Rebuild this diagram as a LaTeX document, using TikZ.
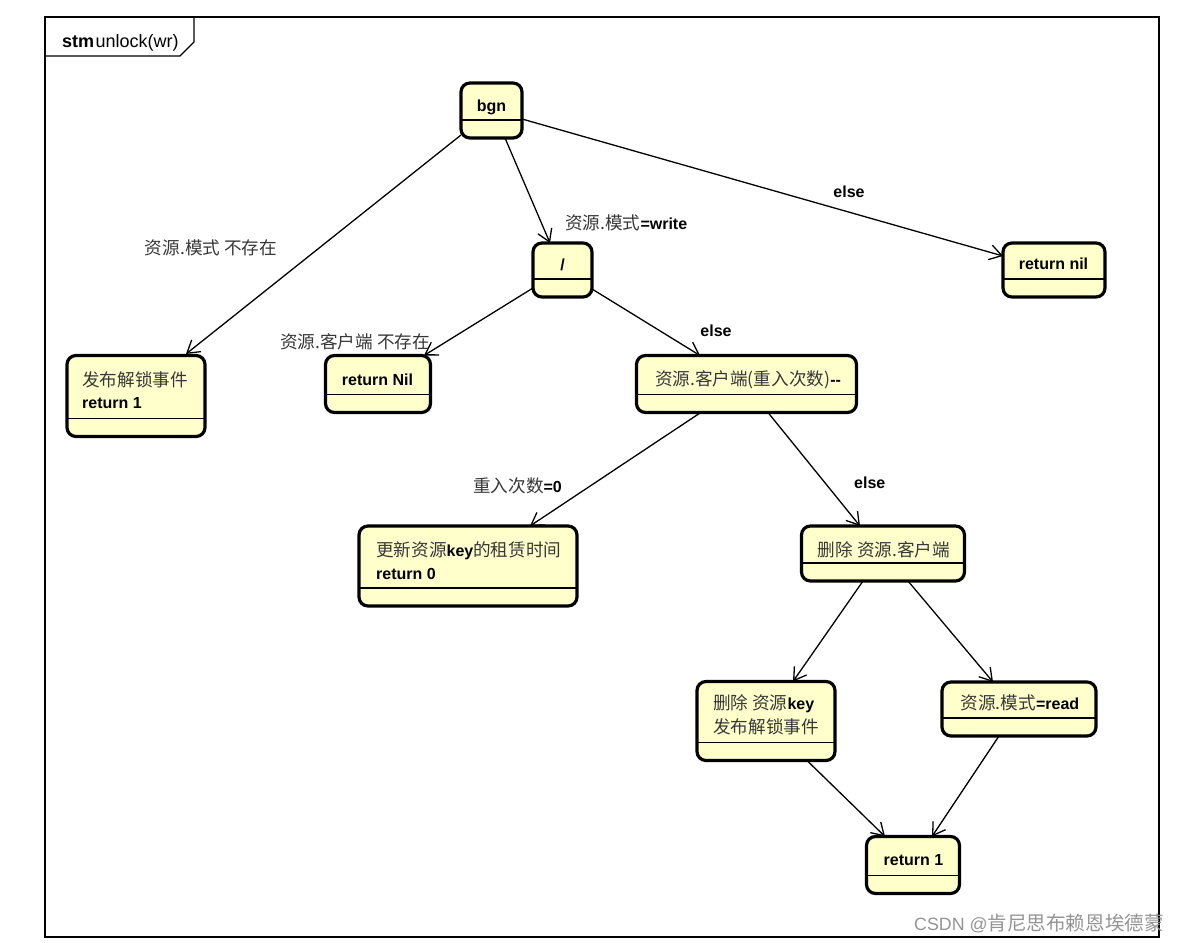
\documentclass[tikz,border=0pt]{standalone}
\usepackage{fontspec}
\setmainfont{Liberation Sans}
\newfontfamily\cjk[Scale=1.1]{Noto Sans CJK SC}
\usetikzlibrary{arrows.meta}
\definecolor{statefill}{RGB}{255,255,204}
\definecolor{zhgray}{RGB}{55,55,55}
\newcommand{\zh}[1]{{\cjk\mdseries\color{zhgray}#1}}
\newcommand{\stbox}[5]{%
  \node[state, minimum width=#4pt, minimum height=#5pt] (#1) at (#2,#3) {};
  \draw[sepline] ([yshift=18pt]#1.south west) -- ([yshift=18pt]#1.south east);}
\begin{document}
\begin{tikzpicture}[x=1pt,y=-1pt,
  font=\fontsize{16}{19}\selectfont\bfseries,
  state/.style={draw, line width=3.2pt, rounded corners=9pt, fill=statefill, outer sep=0pt, inner sep=0pt},
  sepline/.style={line width=1.5pt},
  lbl/.style={inner sep=0pt, anchor=base},
  lblw/.style={inner sep=0pt, anchor=base west},
  conn/.style={line width=1.3pt, -{Straight Barb[length=12pt,width=15pt,line width=1.3pt]}},
]
\useasboundingbox (0,0) rectangle (1180,942);
\fill[white] (0,0) rectangle (1180,942);

% frame
\draw[line width=1.3pt] (45,17) rectangle (1159,937);
\draw[line width=1.3pt] (45,56) -- (180,56) -- (194,42) -- (194,17);
\node[lblw, font=\fontsize{18}{21}\selectfont] (title) at (62,48) {{\bfseries stm}\hspace{1.5pt}unlock(wr)};

% states
\stbox{bgn}{491.5}{110.5}{61}{55}
\stbox{slash}{562.5}{270}{59}{54}
\stbox{retnil}{1054}{270}{102}{54}
\stbox{pub}{136}{396}{138}{81}
\stbox{retNil}{378}{384}{105}{57}
\stbox{cli}{746.5}{384}{220}{57}
\stbox{upd}{468}{566}{218}{80}
\stbox{delcli}{883}{553.5}{163}{55}
\stbox{delkey}{766}{721}{138}{79}
\stbox{read}{1019}{709}{154}{54}
\stbox{ret1}{913}{865}{93}{57}

% state texts
\node[lbl] (bgn-t) at (491.5,111) {bgn};
\node[lbl] (slash-t) at (562.5,270) {/};
\node[lbl] (retnil-t) at (1053.5,269) {return nil};
\node[lblw] (pub-t1) at (82,386) {\zh{发布解锁事件}};
\node[lblw] (pub-t2) at (82,408) {return 1};
\node[lbl] (retNil-t) at (377.5,385) {return Nil};
\node[lbl] (cli-t) at (748,385) {\zh{资源.客户端(重入次数)}-{}-};
\node[lblw] (upd-t1) at (376,556) {\zh{更新资源}key\zh{的租赁时间}};
\node[lblw] (upd-t2) at (376,579) {return 0};
\node[lbl] (delcli-t) at (884,556) {\zh{删除 资源.客户端}};
\node[lblw] (delkey-t1) at (713,709) {\zh{删除 资源}key};
\node[lblw] (delkey-t2) at (713,733) {\zh{发布解锁事件}};
\node[lbl] (read-t) at (1020,709) {\zh{资源.模式}=read};
\node[lbl] (ret1-t) at (913.5,865.5) {return 1};

% connectors
\draw[conn] ([shift={(-30.5,24.5)}]bgn.center) -- ([shift={(50,-42)}]pub.center);
\draw[conn] ([shift={(13.5,27.5)}]bgn.center) -- ([shift={(-12.5,-27)}]slash.center);
\draw[conn] ([shift={(30.5,8.5)}]bgn.center) -- ([shift={(-51,-14)}]retnil.center);
\draw[conn] ([shift={(-29.5,18)}]slash.center) -- ([shift={(46,-28.5)}]retNil.center);
\draw[conn] ([shift={(29.5,19)}]slash.center) -- ([shift={(-46.5,-28.5)}]cli.center);
\draw[conn] ([shift={(-46.5,29)}]cli.center) -- ([shift={(62,-40)}]upd.center);
\draw[conn] ([shift={(21.5,28.5)}]cli.center) -- ([shift={(-23,-27.5)}]delcli.center);
\draw[conn] ([shift={(-20,27.5)}]delcli.center) -- ([shift={(27,-39.5)}]delkey.center);
\draw[conn] ([shift={(25,27.5)}]delcli.center) -- ([shift={(-26,-27)}]read.center);
\draw[conn] ([shift={(41,39.5)}]delkey.center) -- ([shift={(-28,-28.5)}]ret1.center);
\draw[conn] ([shift={(-20,27)}]read.center) -- ([shift={(19,-28.5)}]ret1.center);

% connector labels
\node[lbl] (l1) at (211,254) {\zh{资源.模式 不存在}};
\node[lblw] (l2) at (565,229) {\zh{资源.模式}=write};
\node[lbl] (l3) at (849,197) {else};
\node[lblw] (l4) at (280,348) {\zh{资源.客户端 不存在}};
\node[lbl] (l5) at (716,336) {else};
\node[lblw] (l6) at (473,492) {\zh{重入次数}=0};
\node[lblw] (l7) at (854,488) {else};

% watermark
\node[lblw, font=\fontsize{17.8}{21}\selectfont, text=black!42] (wm) at (914,930) {CSDN @{\cjk 肯尼思布赖恩埃德蒙}};
\end{tikzpicture}
\end{document}
